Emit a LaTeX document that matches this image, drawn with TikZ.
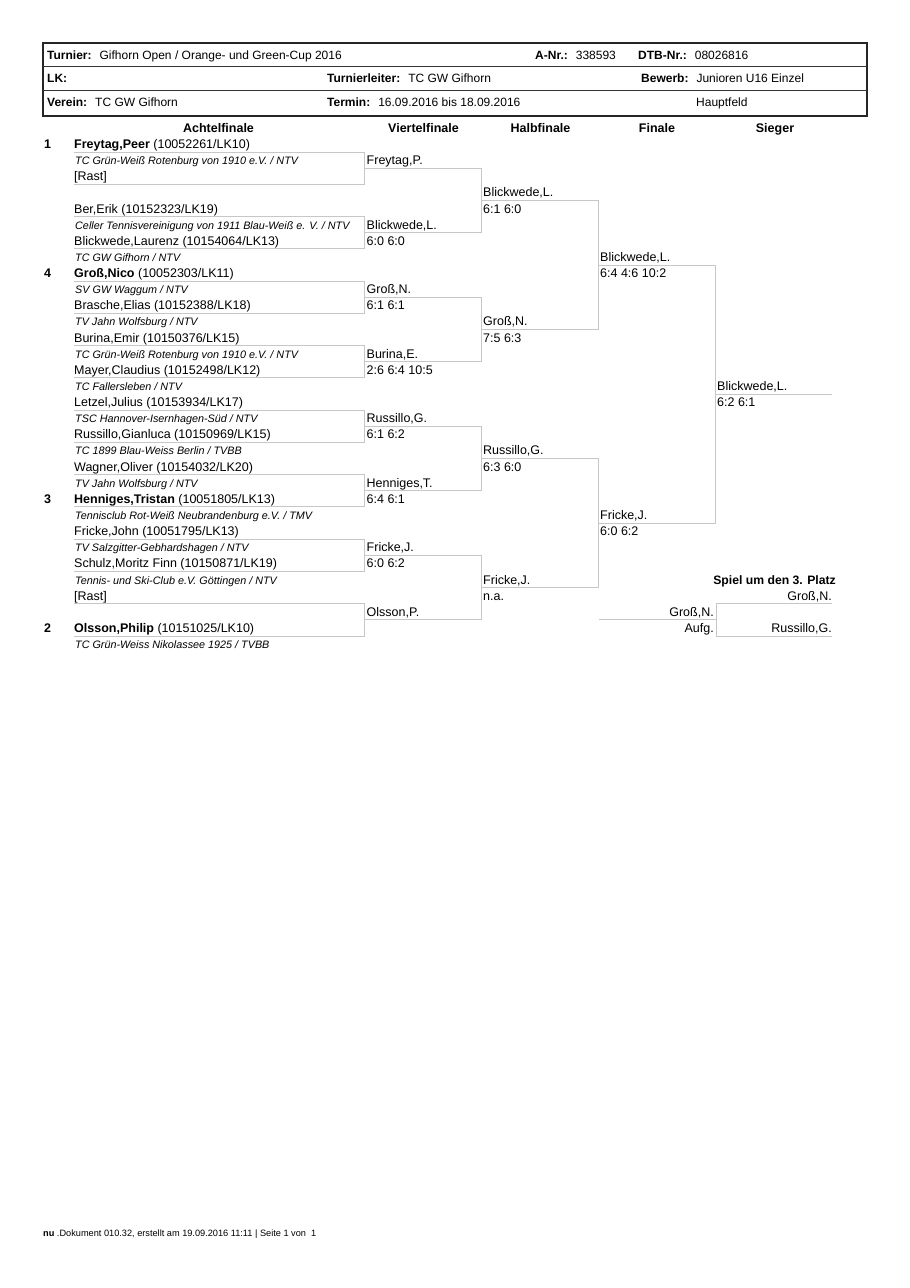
\documentclass[tikz,border=0pt]{standalone}
\usepackage{fontspec}
\setmainfont{Liberation Sans}
\newcommand\RY[1]{-(148.5+16.13*(#1))}
\newcommand\BY[1]{-(152.07+16.13*(#1))}
\begin{document}
\begin{tikzpicture}[x=1pt,y=1pt,
  txt/.style={anchor=base west,inner sep=0pt,font=\fontsize{12.5}{14}\selectfont},
  htxt/.style={anchor=base west,inner sep=0pt,font=\fontsize{12}{14}\selectfont},
  club/.style={anchor=base west,inner sep=0pt,font=\fontsize{10.8}{12}\selectfont\itshape},
  rtxt/.style={anchor=base east,inner sep=0pt,font=\fontsize{12.5}{14}\selectfont},
  head/.style={anchor=base,inner sep=0pt,font=\fontsize{12.5}{14}\selectfont\bfseries},
  seed/.style={anchor=base west,inner sep=0pt,font=\fontsize{12.5}{14}\selectfont\bfseries},
  br/.style={draw=black!22,line width=0.9pt},
  frame/.style={draw=black!85,line width=1.4pt},
  rule/.style={draw=black!80,line width=0.8pt}]
\useasboundingbox[fill=white] (0,0) rectangle (910,-1288);

% ---------- header table
\draw[frame] (43,-43) rectangle (867,-116);
\draw[rule] (43,-66) -- (867,-66);
\draw[rule] (43,-90) -- (867,-90);
\node[htxt] (hTurnier) at (47,-59) {\textbf{Turnier:}\hspace{8pt}Gifhorn Open / Orange- und Green-Cup 2016};
\node[htxt] (hANr) at (535,-59) {\textbf{A-Nr.:}\hspace{8pt}338593};
\node[htxt] (hDTB) at (638,-59) {\textbf{DTB-Nr.:}\hspace{8pt}08026816};
\node[htxt] (hLK) at (47,-82.5) {\textbf{LK:}};
\node[htxt] (hTL) at (327,-82.5) {\textbf{Turnierleiter:}\hspace{8pt}TC GW Gifhorn};
\node[htxt] (hBew) at (641,-82.5) {\textbf{Bewerb:}\hspace{8pt}Junioren U16 Einzel};
\node[htxt] (hVer) at (47,-106.5) {\textbf{Verein:}\hspace{8pt}TC GW Gifhorn};
\node[htxt] (hTer) at (327,-106.5) {\textbf{Termin:}\hspace{8pt}16.09.2016 bis 18.09.2016};
\node[htxt] (hHF) at (696,-106.5) {Hauptfeld};

% ---------- column headings
\node[head] (cA) at (218.5,-132.5) {Achtelfinale};
\node[head] (cV) at (423.5,-132.5) {Viertelfinale};
\node[head] (cH) at (540.5,-132.5) {Halbfinale};
\node[head] (cF) at (657,-132.5) {Finale};
\node[head] (cS) at (775,-132.5) {Sieger};

% ---------- bracket lines
\foreach \j in {0,...,7}{
  \draw[br] (74,{\BY{4*\j}}) -- (364,{\BY{4*\j}}) -- (364,{\BY{4*\j+2}}) -- (74,{\BY{4*\j+2}});
}
\foreach \m in {0,...,3}{
  \draw[br] (365,{\BY{8*\m+1}}) -- (481,{\BY{8*\m+1}}) -- (481,{\BY{8*\m+5}}) -- (365,{\BY{8*\m+5}});
}
\foreach \n in {0,1}{
  \draw[br] (482,{\BY{16*\n+3}}) -- (598,{\BY{16*\n+3}}) -- (598,{\BY{16*\n+11}}) -- (482,{\BY{16*\n+11}});
}
\draw[br] (599,{\BY{7}}) -- (715,{\BY{7}}) -- (715,{\BY{23}}) -- (599,{\BY{23}});
\draw[br] (716,{\BY{15}}) -- (832,{\BY{15}});
\draw[br] (599,{\BY{29}}) -- (716,{\BY{29}});
\draw[br] (832,{\BY{28}}) -- (716,{\BY{28}}) -- (716,{\BY{30}}) -- (832,{\BY{30}});

% ---------- seeds
\node[seed] (s1) at (44,{\RY{0}}) {1};
\node[seed] (s4) at (44,{\RY{8}}) {4};
\node[seed] (s3) at (44,{\RY{22}}) {3};
\node[seed] (s2) at (44,{\RY{30}}) {2};

% ---------- Achtelfinale
\node[txt]  (a0)  at (74,{\RY{0}})  {\textbf{Freytag,Peer} (10052261/LK10)};
\node[club] (a1)  at (75,{\RY{1}})  {TC Grün-Weiß Rotenburg von 1910 e.V. / NTV};
\node[txt]  (a2)  at (74,{\RY{2}})  {[Rast]};
\node[txt]  (a4)  at (74,{\RY{4}})  {Ber,Erik (10152323/LK19)};
\node[club] (a5)  at (75,{\RY{5}})  {Celler Tennisvereinigung von 1911 Blau-Weiß e. V. / NTV};
\node[txt]  (a6)  at (74,{\RY{6}})  {Blickwede,Laurenz (10154064/LK13)};
\node[club] (a7)  at (75,{\RY{7}})  {TC GW Gifhorn / NTV};
\node[txt]  (a8)  at (74,{\RY{8}})  {\textbf{Groß,Nico} (10052303/LK11)};
\node[club] (a9)  at (75,{\RY{9}})  {SV GW Waggum / NTV};
\node[txt]  (a10) at (74,{\RY{10}}) {Brasche,Elias (10152388/LK18)};
\node[club] (a11) at (75,{\RY{11}}) {TV Jahn Wolfsburg / NTV};
\node[txt]  (a12) at (74,{\RY{12}}) {Burina,Emir (10150376/LK15)};
\node[club] (a13) at (75,{\RY{13}}) {TC Grün-Weiß Rotenburg von 1910 e.V. / NTV};
\node[txt]  (a14) at (74,{\RY{14}}) {Mayer,Claudius (10152498/LK12)};
\node[club] (a15) at (75,{\RY{15}}) {TC Fallersleben / NTV};
\node[txt]  (a16) at (74,{\RY{16}}) {Letzel,Julius (10153934/LK17)};
\node[club] (a17) at (75,{\RY{17}}) {TSC Hannover-Isernhagen-Süd / NTV};
\node[txt]  (a18) at (74,{\RY{18}}) {Russillo,Gianluca (10150969/LK15)};
\node[club] (a19) at (75,{\RY{19}}) {TC 1899 Blau-Weiss Berlin / TVBB};
\node[txt]  (a20) at (74,{\RY{20}}) {Wagner,Oliver (10154032/LK20)};
\node[club] (a21) at (75,{\RY{21}}) {TV Jahn Wolfsburg / NTV};
\node[txt]  (a22) at (74,{\RY{22}}) {\textbf{Henniges,Tristan} (10051805/LK13)};
\node[club] (a23) at (75,{\RY{23}}) {Tennisclub Rot-Weiß Neubrandenburg e.V. / TMV};
\node[txt]  (a24) at (74,{\RY{24}}) {Fricke,John (10051795/LK13)};
\node[club] (a25) at (75,{\RY{25}}) {TV Salzgitter-Gebhardshagen / NTV};
\node[txt]  (a26) at (74,{\RY{26}}) {Schulz,Moritz Finn (10150871/LK19)};
\node[club] (a27) at (75,{\RY{27}}) {Tennis- und Ski-Club e.V. Göttingen / NTV};
\node[txt]  (a28) at (74,{\RY{28}}) {[Rast]};
\node[txt]  (a30) at (74,{\RY{30}}) {\textbf{Olsson,Philip} (10151025/LK10)};
\node[club] (a31) at (75,{\RY{31}}) {TC Grün-Weiss Nikolassee 1925 / TVBB};

% ---------- Viertelfinale
\node[txt] (v1)  at (366.5,{\RY{1}})  {Freytag,P.};
\node[txt] (v5)  at (366.5,{\RY{5}})  {Blickwede,L.};
\node[txt] (v6)  at (366.5,{\RY{6}})  {6:0 6:0};
\node[txt] (v9)  at (366.5,{\RY{9}})  {Groß,N.};
\node[txt] (v10) at (366.5,{\RY{10}}) {6:1 6:1};
\node[txt] (v13) at (366.5,{\RY{13}}) {Burina,E.};
\node[txt] (v14) at (366.5,{\RY{14}}) {2:6 6:4 10:5};
\node[txt] (v17) at (366.5,{\RY{17}}) {Russillo,G.};
\node[txt] (v18) at (366.5,{\RY{18}}) {6:1 6:2};
\node[txt] (v21) at (366.5,{\RY{21}}) {Henniges,T.};
\node[txt] (v22) at (366.5,{\RY{22}}) {6:4 6:1};
\node[txt] (v25) at (366.5,{\RY{25}}) {Fricke,J.};
\node[txt] (v26) at (366.5,{\RY{26}}) {6:0 6:2};
\node[txt] (v29) at (366.5,{\RY{29}}) {Olsson,P.};

% ---------- Halbfinale
\node[txt] (h3)  at (483,{\RY{3}})  {Blickwede,L.};
\node[txt] (h4)  at (483,{\RY{4}})  {6:1 6:0};
\node[txt] (h11) at (483,{\RY{11}}) {Groß,N.};
\node[txt] (h12) at (483,{\RY{12}}) {7:5 6:3};
\node[txt] (h19) at (483,{\RY{19}}) {Russillo,G.};
\node[txt] (h20) at (483,{\RY{20}}) {6:3 6:0};
\node[txt] (h27) at (483,{\RY{27}}) {Fricke,J.};
\node[txt] (h28) at (483,{\RY{28}}) {n.a.};

% ---------- Finale
\node[txt] (f7)  at (600,{\RY{7}})  {Blickwede,L.};
\node[txt] (f8)  at (600,{\RY{8}})  {6:4 4:6 10:2};
\node[txt] (f23) at (600,{\RY{23}}) {Fricke,J.};
\node[txt] (f24) at (600,{\RY{24}}) {6:0 6:2};

% ---------- Sieger
\node[txt] (w15) at (717,{\RY{15}}) {Blickwede,L.};
\node[txt] (w16) at (717,{\RY{16}}) {6:2 6:1};

% ---------- Spiel um den 3. Platz
\node[anchor=base east,inner sep=0pt,font=\fontsize{12.2}{14}\selectfont\bfseries] (p3) at (836,{\RY{27}}) {Spiel um den 3. Platz};
\node[rtxt] (p28) at (832,{\RY{28}}) {Groß,N.};
\node[rtxt] (p29) at (714,{\RY{29}}) {Groß,N.};
\node[rtxt] (p30a) at (714,{\RY{30}}) {Aufg.};
\node[rtxt] (p30b) at (832,{\RY{30}}) {Russillo,G.};

% ---------- footer
\node[anchor=base west,inner sep=0pt,font=\fontsize{9.2}{11}\selectfont] (foot) at (43,-1236) {\textbf{nu} .Dokument 010.32, erstellt am 19.09.2016 11:11 | Seite 1 von\ \ 1};
\end{tikzpicture}
\end{document}
